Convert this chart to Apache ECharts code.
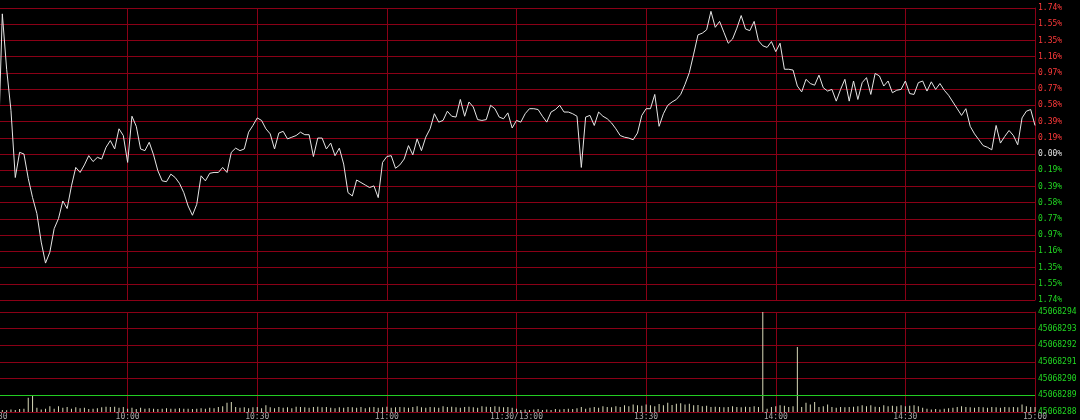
<!DOCTYPE html>
<html>
<head>
<meta charset="utf-8">
<style>
  html, body { margin: 0; padding: 0; background: #000; }
  #chart { width: 1080px; height: 420px; }
</style>
<script src="https://cdn.jsdelivr.net/npm/echarts@6/dist/echarts.min.js"></script>
</head>
<body>
<div id="chart"></div>
<script>
// ---- tick labels on the time axis (every 30 minutes) ----
const timeTickLabels = ['9:30', '10:00', '10:30', '11:00', '11:30/13:00', '13:30', '14:00', '14:30', '15:00'];

// ---- percent change, morning session 9:30..11:30 (121 minutes) ----
const pctMorning = [
  0.00, 1.67, 1.01, 0.52, -0.28, 0.02, 0.00, -0.29, -0.52, -0.71,
  -1.05, -1.30, -1.17, -0.89, -0.77, -0.56, -0.65, -0.38, -0.16, -0.22,
  -0.13, -0.02, -0.09, -0.04, -0.06, 0.08, 0.16, 0.06, 0.30, 0.22,
  -0.10, 0.45, 0.33, 0.06, 0.04, 0.14, -0.01, -0.20, -0.32, -0.33,
  -0.24, -0.28, -0.35, -0.46, -0.62, -0.73, -0.60, -0.26, -0.32, -0.23,
  -0.22, -0.22, -0.16, -0.22, 0.02, 0.07, 0.04, 0.06, 0.26, 0.34,
  0.43, 0.40, 0.30, 0.24, 0.06, 0.25, 0.27, 0.18, 0.20, 0.22,
  0.26, 0.23, 0.23, -0.03, 0.19, 0.19, 0.06, 0.13, -0.02, 0.07,
  -0.12, -0.46, -0.50, -0.31, -0.34, -0.37, -0.40, -0.38, -0.52, -0.10,
  -0.03, -0.02, -0.17, -0.13, -0.06, 0.10, -0.01, 0.18, 0.04, 0.20,
  0.30, 0.48, 0.38, 0.40, 0.51, 0.45, 0.44, 0.65, 0.45, 0.62,
  0.56, 0.41, 0.40, 0.41, 0.58, 0.54, 0.44, 0.42, 0.49, 0.31,
  0.40
];
// ---- percent change, afternoon session 13:01..15:00 (120 minutes) ----
const pctAfternoon = [
  0.38, 0.48, 0.54, 0.54, 0.53, 0.45, 0.38, 0.50, 0.53, 0.58,
  0.50, 0.50, 0.48, 0.45, -0.16, 0.44, 0.46, 0.34, 0.50, 0.45,
  0.42, 0.37, 0.30, 0.22, 0.20, 0.19, 0.17, 0.25, 0.46, 0.54,
  0.54, 0.71, 0.33, 0.48, 0.58, 0.62, 0.65, 0.71, 0.83, 0.97,
  1.19, 1.42, 1.44, 1.48, 1.70, 1.51, 1.58, 1.45, 1.32, 1.37,
  1.50, 1.65, 1.49, 1.47, 1.58, 1.35, 1.29, 1.27, 1.34, 1.22,
  1.32, 1.01, 1.01, 1.00, 0.81, 0.74, 0.89, 0.84, 0.82, 0.94,
  0.79, 0.75, 0.77, 0.63, 0.77, 0.89, 0.63, 0.87, 0.65, 0.85,
  0.91, 0.71, 0.96, 0.93, 0.81, 0.87, 0.73, 0.76, 0.77, 0.87,
  0.72, 0.71, 0.85, 0.87, 0.75, 0.86, 0.77, 0.84, 0.76, 0.70,
  0.62, 0.54, 0.46, 0.54, 0.33, 0.24, 0.17, 0.10, 0.08, 0.05,
  0.34, 0.13, 0.21, 0.28, 0.22, 0.11, 0.43, 0.51, 0.53, 0.34
];

// ---- volume, morning session (121 minutes) ----
const volMorning = [
  45068288.10, 45068288.12, 45068288.10, 45068288.15, 45068288.12, 45068288.18, 45068288.20, 45068288.85, 45068289.00, 45068288.25,
  45068288.15, 45068288.20, 45068288.35, 45068288.20, 45068288.35, 45068288.25, 45068288.30, 45068288.20, 45068288.28, 45068288.22,
  45068288.25, 45068288.18, 45068288.20, 45068288.22, 45068288.28, 45068288.32, 45068288.30, 45068288.32, 45068288.25, 45068288.30,
  45068288.20, 45068288.25, 45068288.18, 45068288.25, 45068288.20, 45068288.22, 45068288.20, 45068288.18, 45068288.20, 45068288.22,
  45068288.20, 45068288.20, 45068288.22, 45068288.20, 45068288.20, 45068288.18, 45068288.20, 45068288.22, 45068288.20, 45068288.25,
  45068288.22, 45068288.30, 45068288.35, 45068288.55, 45068288.60, 45068288.30, 45068288.25, 45068288.28, 45068288.22, 45068288.28,
  45068288.30, 45068288.22, 45068288.40, 45068288.28, 45068288.22, 45068288.30, 45068288.25, 45068288.28, 45068288.22, 45068288.32,
  45068288.30, 45068288.28, 45068288.25, 45068288.30, 45068288.32, 45068288.28, 45068288.30, 45068288.25, 45068288.22, 45068288.28,
  45068288.25, 45068288.30, 45068288.28, 45068288.25, 45068288.30, 45068288.22, 45068288.28, 45068288.30, 45068288.25, 45068288.28,
  45068288.32, 45068288.25, 45068288.28, 45068288.30, 45068288.28, 45068288.25, 45068288.30, 45068288.35, 45068288.28, 45068288.25,
  45068288.30, 45068288.28, 45068288.25, 45068288.35, 45068288.30, 45068288.32, 45068288.28, 45068288.25, 45068288.30, 45068288.32,
  45068288.28, 45068288.25, 45068288.35, 45068288.32, 45068288.30, 45068288.35, 45068288.32, 45068288.28, 45068288.30, 45068288.25,
  45068288.20
];
// ---- volume, afternoon session (120 minutes) ----
const volAfternoon = [
  45068288.12, 45068288.15, 45068288.12, 45068288.15, 45068288.18, 45068288.12, 45068288.15, 45068288.12, 45068288.18, 45068288.15,
  45068288.18, 45068288.20, 45068288.18, 45068288.22, 45068288.30, 45068288.20, 45068288.25, 45068288.30, 45068288.25, 45068288.35,
  45068288.30, 45068288.28, 45068288.35, 45068288.30, 45068288.40, 45068288.35, 45068288.45, 45068288.40, 45068288.38, 45068288.45,
  45068288.40, 45068288.35, 45068288.48, 45068288.40, 45068288.55, 45068288.42, 45068288.50, 45068288.52, 45068288.45, 45068288.50,
  45068288.40, 45068288.42, 45068288.35, 45068288.38, 45068288.30, 45068288.32, 45068288.30, 45068288.28, 45068288.30, 45068288.35,
  45068288.30, 45068288.28, 45068288.32, 45068288.30, 45068288.35, 45068288.30, 45068294.00, 45068288.20, 45068288.30, 45068288.35,
  45068288.40, 45068288.38, 45068288.30, 45068288.35, 45068291.90, 45068288.30, 45068288.55, 45068288.45, 45068288.60, 45068288.30,
  45068288.35, 45068288.45, 45068288.30, 45068288.25, 45068288.30, 45068288.28, 45068288.30, 45068288.32, 45068288.35, 45068288.40,
  45068288.35, 45068288.40, 45068288.32, 45068288.30, 45068288.40, 45068288.35, 45068288.38, 45068288.35, 45068288.40, 45068288.35,
  45068288.38, 45068288.40, 45068288.35, 45068288.25, 45068288.20, 45068288.15, 45068288.18, 45068288.15, 45068288.20, 45068288.22,
  45068288.25, 45068288.30, 45068288.35, 45068288.30, 45068288.28, 45068288.25, 45068288.30, 45068288.28, 45068288.25, 45068288.30,
  45068288.28, 45068288.25, 45068288.30, 45068288.28, 45068288.30, 45068288.28, 45068288.45, 45068288.35, 45068288.30, 45068288.30
];

// ---- axis settings ----
const pctMax = 1.74;
const volTicks = [45068288, 45068289, 45068290, 45068291, 45068292, 45068293, 45068294];
const volGreenLevel = 45068289;

// ---- categories: one per trading minute ----
function pad(n) { return (n < 10 ? '0' : '') + n; }
const categories = [];
for (let m = 9 * 60 + 30; m <= 11 * 60 + 30; m++) categories.push(Math.floor(m / 60) + ':' + pad(m % 60));
for (let m = 13 * 60 + 1; m <= 15 * 60; m++) categories.push(Math.floor(m / 60) + ':' + pad(m % 60));

const pctData = pctMorning.concat(pctAfternoon);
const volData = volMorning.concat(volAfternoon);

const gridRed = '#8a0016';
const lineGreen = '#22cc22';
const monoFont = 'DejaVu Sans Mono';
const tickEvery = function (idx) { return idx % 30 === 0; };
const wideBounds = { left: -200, right: -200, top: -200, bottom: -200 };

const chart = echarts.init(document.getElementById('chart'), null, { renderer: 'canvas' });
chart.setOption({
  backgroundColor: '#000000',
  animation: false,
  grid: [
    { left: -2, right: 45, top: 8, height: 292, outerBounds: wideBounds },
    { left: -2, right: 45, top: 312, height: 100, outerBounds: wideBounds }
  ],
  xAxis: [
    {
      type: 'category', gridIndex: 0, data: categories, boundaryGap: false,
      axisLine: { show: false }, axisTick: { show: false }, axisLabel: { show: false },
      splitLine: { show: true, interval: tickEvery, lineStyle: { color: gridRed, width: 1 } }
    },
    {
      type: 'category', gridIndex: 1, data: categories, boundaryGap: false,
      axisLine: { show: false }, axisTick: { show: false },
      axisLabel: {
        show: true, interval: tickEvery, margin: 1, color: '#a8a8a8',
        fontFamily: monoFont, fontSize: 8,
        formatter: function (v, idx) { return timeTickLabels[idx / 30]; }
      },
      splitLine: { show: true, interval: tickEvery, lineStyle: { color: gridRed, width: 1 } }
    }
  ],
  yAxis: [
    {
      type: 'value', gridIndex: 0, position: 'right',
      min: -pctMax, max: pctMax, interval: pctMax / 9,
      axisLine: { show: true, lineStyle: { color: gridRed } },
      axisTick: { show: false },
      splitLine: { show: true, lineStyle: { color: gridRed, width: 1 } },
      axisLabel: {
        margin: 3, fontFamily: monoFont, fontSize: 8, padding: [0, 0, 5, 0],
        formatter: function (v) { return Math.abs(v).toFixed(2) + '%'; },
        color: function (v) {
          const n = Number(v);
          if (n > 0.001) return '#ff3a3a';
          if (n < -0.001) return '#22d822';
          return '#e0e0e0';
        }
      }
    },
    {
      type: 'value', gridIndex: 1, position: 'right',
      min: volTicks[0], max: volTicks[volTicks.length - 1], interval: 1,
      axisLine: { show: true, lineStyle: { color: gridRed } },
      axisTick: { show: false },
      splitLine: { show: true, lineStyle: { color: gridRed, width: 1 } },
      axisLabel: {
        margin: 3, fontFamily: monoFont, fontSize: 8, padding: [0, 0, 5, 0],
        color: '#22d822',
        formatter: function (v) { return String(Math.round(v)); }
      }
    }
  ],
  series: [
    {
      type: 'line', xAxisIndex: 0, yAxisIndex: 0, data: pctData,
      showSymbol: false, symbol: 'none', smooth: false,
      lineStyle: { color: '#e6e6e6', width: 1 }
    },
    {
      type: 'bar', xAxisIndex: 1, yAxisIndex: 1, data: volData,
      barWidth: 1, clip: true,
      itemStyle: { color: '#d8d8b8' },
      markLine: {
        silent: true, symbol: ['none', 'none'], label: { show: false }, z: 50,
        lineStyle: { color: lineGreen, type: 'solid', width: 1, opacity: 1 },
        data: [[
          { coord: [categories[0], volGreenLevel] },
          { coord: [categories[categories.length - 1], volGreenLevel] }
        ]]
      }
    }
  ]
});
</script>
</body>
</html>
